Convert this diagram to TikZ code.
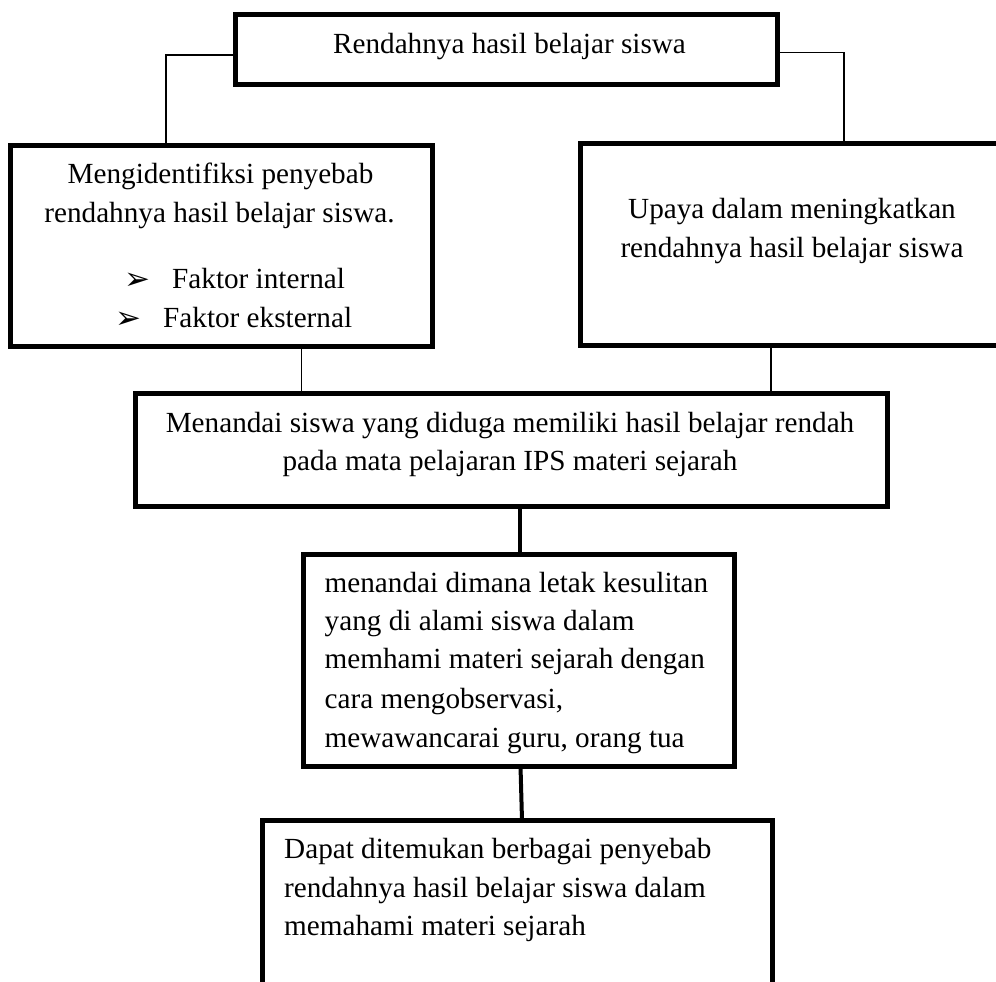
\documentclass[tikz,border=0pt]{standalone}
\usepackage{fontspec}
\setmainfont{Liberation Serif}
\newfontfamily\dej{DejaVu Sans}
\tikzset{
  box/.style={draw, line width=5pt, inner sep=0pt, outer sep=0pt, anchor=north west},
  thinline/.style={line width=1.6pt},
  heavyline/.style={line width=4pt},
  txt/.style={inner sep=0pt, font=\fontsize{29.2}{39}\selectfont},
  bul/.style={inner sep=0pt, anchor=base west, font=\dej\fontsize{31}{36}\selectfont},
}
\begin{document}
\begin{tikzpicture}[x=1pt, y=-1pt]
\clip (0,0) rectangle (996,982);
\fill[white] (0,0) rectangle (996,982);
% boxes
\node[box, minimum width=542pt, minimum height=69.5pt] (top) at (235.5,15) {};
\node[box, minimum width=422.5pt, minimum height=200.5pt] (left) at (10,145.5) {};
\node[box, minimum width=450pt, minimum height=202pt] (right) at (580.5,143) {};
\node[box, minimum width=752pt, minimum height=112.5pt] (mid) at (135,393.5) {};
\node[box, minimum width=431.5pt, minimum height=212pt] (b4) at (303,554) {};
\node[box, minimum width=510.5pt, minimum height=250pt] (b5) at (262,820) {};
% connectors
\coordinate (ca) at (166,55);
\draw[thinline] (top.west |- ca) -- (ca) -- (ca |- left.north);
\coordinate (cb) at (844,52.5);
\draw[thinline] (top.east |- cb) -- (cb) -- (cb |- right.north);
\coordinate (cc) at (301.5,0);
\draw[thinline] (cc |- left.south) -- (cc |- mid.north);
\coordinate (cd) at (771,0);
\draw[thinline] (cd |- right.south) -- (cd |- mid.north);
\coordinate (ce) at (520,0);
\draw[heavyline] (ce |- mid.south) -- (ce |- b4.north);
\coordinate (cf) at (520.5,0);
\coordinate (cg) at (522,0);
\draw[heavyline] (cf |- b4.south) -- (cg |- b5.north);
% texts
\node[txt, anchor=base] (t0) at (509.5,54) {Rendahnya hasil belajar siswa};
\node[txt, anchor=base] (l1) at (220.5,183) {Mengidentifiksi penyebab};
\node[txt, anchor=base] (l2) at (219.5,222) {rendahnya hasil belajar siswa.};
\node[bul] (a1) at (124,289) {➢};
\node[txt, anchor=base west] (f1) at (172,288) {Faktor internal};
\node[bul] (a2) at (115,328) {➢};
\node[txt, anchor=base west] (f2) at (163,327) {Faktor eksternal};
\node[txt, anchor=base] (r1) at (792,218) {Upaya dalam meningkatkan};
\node[txt, anchor=base] (r2) at (792,257) {rendahnya hasil belajar siswa};
\node[txt, anchor=base] (m1) at (510,432) {Menandai siswa yang diduga memiliki hasil belajar rendah};
\node[txt, anchor=base] (m2) at (510,470) {pada mata pelajaran IPS materi sejarah};
\node[txt, anchor=base west] (k1) at (324.5,592) {menandai dimana letak kesulitan};
\node[txt, anchor=base west] (k2) at (324.5,630) {yang di alami siswa dalam};
\node[txt, anchor=base west] (k3) at (324.5,668) {memhami materi sejarah dengan};
\node[txt, anchor=base west] (k4) at (324.5,708) {cara mengobservasi,};
\node[txt, anchor=base west] (k5) at (324.5,747) {mewawancarai guru, orang tua};
\node[txt, anchor=base west] (d1) at (284,858) {Dapat ditemukan berbagai penyebab};
\node[txt, anchor=base west] (d2) at (284,897) {rendahnya hasil belajar siswa dalam};
\node[txt, anchor=base west] (d3) at (284,935) {memahami materi sejarah};
\end{tikzpicture}
\end{document}
